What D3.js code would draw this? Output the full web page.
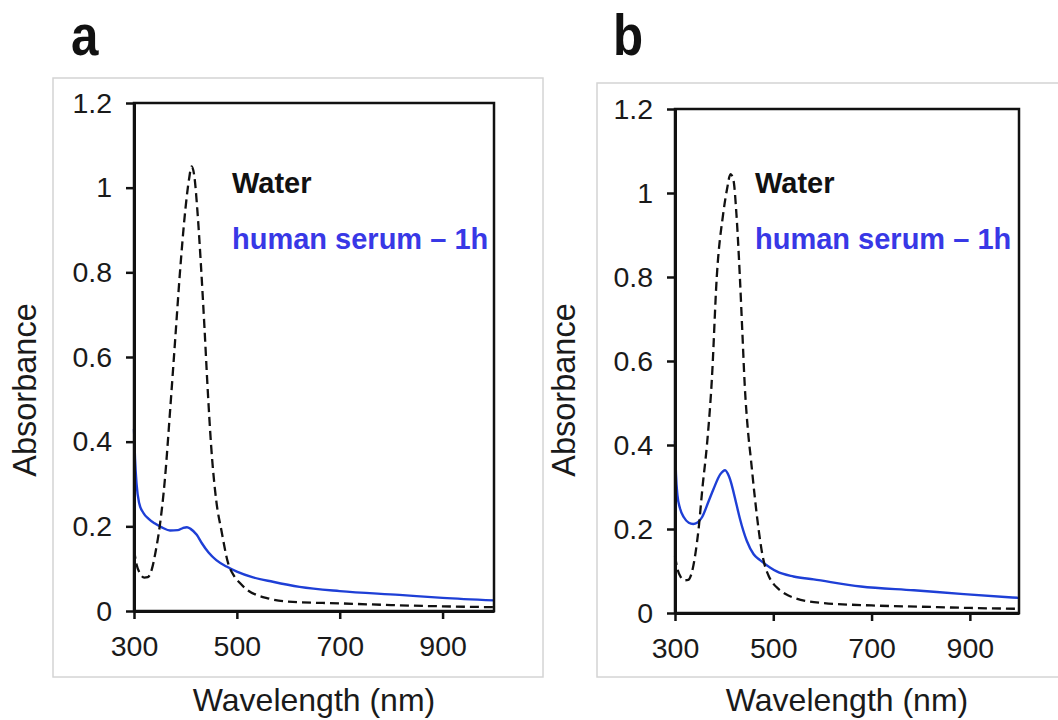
<!DOCTYPE html>
<html>
<head>
<meta charset="utf-8">
<script src="https://cdn.jsdelivr.net/npm/d3@7"></script>
<style>
  body { margin: 0; background: #fff; }
  text { font-family: "Liberation Sans", Arial, sans-serif; fill: #1a1a1a; }
</style>
</head>
<body>
<div id="chart"></div>
<script>
// tick values and labels
let xTicks = [300, 500, 700, 900];
let yTicks = [0, 0.2, 0.4, 0.6, 0.8, 1, 1.2];
let yTickLabels = ['0', '0.2', '0.4', '0.6', '0.8', '1', '1.2'];
let legendLabels = ['Water', 'human serum \u2013 1h'];

// panel a - water (dashed)
let waterA_nm = [300, 305, 312, 320, 327, 335, 342, 350, 360, 370, 380, 390, 400, 407, 412, 417, 423, 430, 437, 443, 450, 460, 470, 483, 495, 506, 520, 538, 560, 600, 700, 800, 900, 1000];
let waterA_abs = [0.145, 0.11, 0.088, 0.079, 0.08, 0.1, 0.14, 0.2, 0.31, 0.47, 0.64, 0.81, 0.95, 1.02, 1.05, 1.03, 0.95, 0.82, 0.67, 0.53, 0.39, 0.26, 0.19, 0.113, 0.082, 0.066, 0.05, 0.038, 0.03, 0.022, 0.018, 0.014, 0.011, 0.009];

// panel a - human serum 1h (blue)
let serumA_nm = [300, 302, 305, 310, 318, 328, 340, 355, 370, 385, 395, 403, 410, 422, 432, 445, 460, 480, 500, 530, 570, 622, 700, 816, 900, 1000];
let serumA_abs = [0.43, 0.36, 0.3, 0.255, 0.232, 0.218, 0.207, 0.197, 0.19, 0.191, 0.196, 0.198, 0.194, 0.18, 0.16, 0.138, 0.12, 0.105, 0.093, 0.08, 0.069, 0.057, 0.047, 0.038, 0.031, 0.025];

// panel b - water (dashed)
let waterB_nm = [300, 305, 312, 320, 327, 335, 342, 348, 356, 365, 375, 385, 398, 406, 413, 419, 425, 432, 437, 442, 448, 455, 462, 470, 480, 490, 500, 510, 525, 545, 600, 700, 800, 900, 1000];
let waterB_abs = [0.136, 0.105, 0.085, 0.078, 0.079, 0.1, 0.145, 0.2, 0.3, 0.4, 0.556, 0.8, 0.95, 1.01, 1.045, 1.03, 0.95, 0.8, 0.67, 0.54, 0.44, 0.36, 0.28, 0.2, 0.126, 0.09, 0.07, 0.058, 0.045, 0.035, 0.024, 0.018, 0.015, 0.012, 0.01];

// panel b - human serum 1h (blue)
let serumB_nm = [300, 302, 305, 310, 318, 328, 337, 345, 355, 368, 378, 392, 402, 410, 426, 432, 446, 460, 473, 494, 507, 541, 582, 678, 786, 888, 1000];
let serumB_abs = [0.41, 0.33, 0.28, 0.25, 0.228, 0.215, 0.212, 0.215, 0.228, 0.265, 0.294, 0.33, 0.34, 0.325, 0.254, 0.225, 0.172, 0.14, 0.126, 0.108, 0.099, 0.087, 0.08, 0.063, 0.054, 0.045, 0.036];

let svgWidth = 1058;
let svgHeight = 720;

let svg = d3.select('#chart')
  .append('svg')
  .attr('width', svgWidth)
  .attr('height', svgHeight);

let blueLine = '#1e3fd6';
let blueText = '#3838e6';

function drawPanel(p) {
  // light grey frame around each panel
  svg.append('rect')
    .attr('x', p.frame[0])
    .attr('y', p.frame[1])
    .attr('width', p.frame[2] - p.frame[0])
    .attr('height', p.frame[3] - p.frame[1])
    .attr('fill', 'none')
    .attr('stroke', '#d4d4d4')
    .attr('stroke-width', 1.5);

  let x = d3.scaleLinear().domain([300, 1000]).range([p.left, p.right]);
  let y = d3.scaleLinear().domain([0, 1.2]).range([p.bottom, p.top]);

  let line = d3.line()
    .x(d => x(d[0]))
    .y(d => y(d[1]))
    .curve(d3.curveMonotoneX);

  let g = svg.append('g');

  g.append('path')
    .datum(d3.zip(p.serumNm, p.serumAbs))
    .attr('d', line)
    .attr('fill', 'none')
    .attr('stroke', blueLine)
    .attr('stroke-width', 2.4);

  g.append('path')
    .datum(d3.zip(p.waterNm, p.waterAbs))
    .attr('d', line)
    .attr('fill', 'none')
    .attr('stroke', '#111')
    .attr('stroke-width', 2.3)
    .attr('stroke-dasharray', '9,5');

  // plot box (top / right)
  g.append('rect')
    .attr('x', p.left)
    .attr('y', p.top)
    .attr('width', p.right - p.left)
    .attr('height', p.bottom - p.top)
    .attr('fill', 'none')
    .attr('stroke', '#111')
    .attr('stroke-width', 2.5);

  let xAxis = g.append('g')
    .attr('transform', `translate(0, ${p.bottom})`)
    .call(d3.axisBottom(x).tickValues(xTicks).tickSize(8).tickSizeOuter(0).tickPadding(17));

  let yAxis = g.append('g')
    .attr('transform', `translate(${p.left}, 0)`)
    .call(d3.axisLeft(y).tickValues(yTicks).tickSize(8).tickSizeOuter(0).tickPadding(14)
      .tickFormat((d, i) => yTickLabels[i]));

  [xAxis, yAxis].forEach(a => {
    a.select('.domain').attr('stroke', '#111').attr('stroke-width', 3);
    a.selectAll('.tick line').attr('stroke', '#111').attr('stroke-width', 2.5);
    a.selectAll('.tick text')
      .attr('font-size', '28.5px')
      .attr('font-family', '"Liberation Sans", Arial, sans-serif')
      .attr('fill', '#1a1a1a');
  });

  // legend texts
  g.append('text')
    .attr('x', p.legendX)
    .attr('y', 193)
    .attr('font-size', '29px')
    .attr('font-weight', 'bold')
    .style('fill', '#111')
    .text(legendLabels[0]);

  g.append('text')
    .attr('x', p.legendX)
    .attr('y', 249)
    .attr('font-size', '29px')
    .attr('font-weight', 'bold')
    .style('fill', blueText)
    .text(legendLabels[1]);

  // axis titles
  g.append('text')
    .attr('x', (p.left + p.right) / 2)
    .attr('y', 711)
    .attr('text-anchor', 'middle')
    .attr('font-size', '32px')
    .text('Wavelength (nm)');

  g.append('text')
    .attr('transform', `translate(${p.yTitleX}, 390) rotate(-90)`)
    .attr('text-anchor', 'middle')
    .attr('font-size', '32.5px')
    .text('Absorbance');

  // panel letter
  g.append('text')
    .attr('transform', `translate(${p.letterX}, 55) scale(0.85, 1)`)
    .attr('font-size', '58px')
    .attr('font-weight', 'bold')
    .style('fill', '#111')
    .text(p.letter);
}

drawPanel({
  letter: 'a', letterX: 71,
  frame: [53, 78, 543, 677],
  left: 134, right: 494, top: 103, bottom: 611,
  legendX: 232, yTitleX: 36,
  waterNm: waterA_nm, waterAbs: waterA_abs,
  serumNm: serumA_nm, serumAbs: serumA_abs
});

drawPanel({
  letter: 'b', letterX: 613,
  frame: [597, 83, 1062, 677],
  left: 675, right: 1019, top: 109, bottom: 613,
  legendX: 755, yTitleX: 575,
  waterNm: waterB_nm, waterAbs: waterB_abs,
  serumNm: serumB_nm, serumAbs: serumB_abs
});
</script>
</body>
</html>
